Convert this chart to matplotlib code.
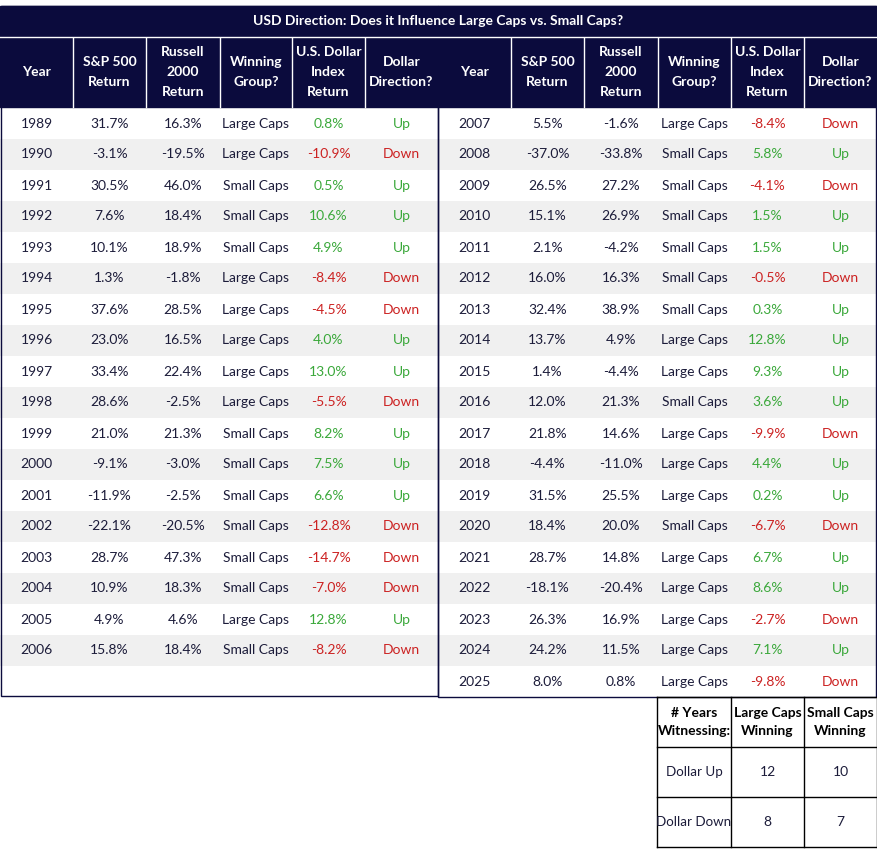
import matplotlib.pyplot as plt
from matplotlib.patches import Rectangle

plt.rcParams['font.family'] = ['Lato', 'DejaVu Sans']

NAVY = '#0b0b3d'
TXT = '#1c1c3a'
GREEN = '#3aa83a'
RED = '#cc2222'

title = "USD Direction: Does it Influence Large Caps vs. Small Caps?"
headers = ["Year", "S&P 500\nReturn", "Russell\n2000\nReturn", "Winning\nGroup?",
           "U.S. Dollar\nIndex\nReturn", "Dollar\nDirection?"]

years = list(range(1989, 2026))
sp500 = [31.7, -3.1, 30.5, 7.6, 10.1, 1.3, 37.6, 23.0, 33.4, 28.6, 21.0, -9.1, -11.9, -22.1,
         28.7, 10.9, 4.9, 15.8, 5.5, -37.0, 26.5, 15.1, 2.1, 16.0, 32.4, 13.7, 1.4, 12.0,
         21.8, -4.4, 31.5, 18.4, 28.7, -18.1, 26.3, 24.2, 8.0]
russell = [16.3, -19.5, 46.0, 18.4, 18.9, -1.8, 28.5, 16.5, 22.4, -2.5, 21.3, -3.0, -2.5, -20.5,
           47.3, 18.3, 4.6, 18.4, -1.6, -33.8, 27.2, 26.9, -4.2, 16.3, 38.9, 4.9, -4.4, 21.3,
           14.6, -11.0, 25.5, 20.0, 14.8, -20.4, 16.9, 11.5, 0.8]
winner = ["Large", "Large", "Small", "Small", "Small", "Large", "Large", "Large", "Large", "Large",
          "Small", "Small", "Small", "Small", "Small", "Small", "Large", "Small",
          "Large", "Small", "Small", "Small", "Small", "Small", "Small", "Large", "Large", "Small",
          "Large", "Large", "Large", "Small", "Large", "Large", "Large", "Large", "Large"]
usd = [0.8, -10.9, 0.5, 10.6, 4.9, -8.4, -4.5, 4.0, 13.0, -5.5, 8.2, 7.5, 6.6, -12.8, -14.7,
       -7.0, 12.8, -8.2, -8.4, 5.8, -4.1, 1.5, 1.5, -0.5, 0.3, 12.8, 9.3, 3.6, -9.9, 4.4, 0.2,
       -6.7, 6.7, 8.6, -2.7, 7.1, -9.8]

summary_cols = ["# Years\nWitnessing:", "Large Caps\nWinning", "Small Caps\nWinning"]
summary_rows = ["Dollar Up", "Dollar Down"]
summary_vals = [[12, 10], [8, 7]]

W, H = 877, 852
fig = plt.figure(figsize=(W / 100, H / 100), dpi=100)
ax = fig.add_axes([0, 0, 1, 1])
ax.set_xlim(0, W)
ax.set_ylim(H, 0)
ax.axis('off')

fs = 10
ax.add_patch(Rectangle((0, 6), W, 101, color=NAVY))
ax.text(W / 2, 21, title, color='white', fontsize=fs, fontweight='bold', ha='center', va='center')
ax.plot([0, W], [37, 37], color='white', lw=1)

row_h = 31
top = 108
blocks = [(0, 0, 18, [0, 73, 146, 220, 292, 365, 438]),
          (438, 18, 19, [438, 511, 584, 658, 731, 804, 877])]
for x0, start, n, xs in blocks:
    for j, h in enumerate(headers):
        cx = (xs[j] + xs[j + 1]) / 2
        ax.text(cx, 72, h, color='white', fontsize=fs, fontweight='bold', ha='center',
                va='center', linespacing=1.75)
        if j > 0:
            ax.plot([xs[j], xs[j]], [38, 107], color='white', lw=1)
    for i in range(n):
        k = start + i
        y = top + i * row_h
        if i % 2 == 1:
            ax.add_patch(Rectangle((xs[0], y), xs[-1] - xs[0], row_h, color='#f0f0f0', lw=0))
        cy = y + row_h / 2
        col = GREEN if usd[k] >= 0 else RED
        vals = [(str(years[k]), TXT), (f"{sp500[k]:.1f}%", TXT), (f"{russell[k]:.1f}%", TXT),
                (winner[k] + " Caps", TXT), (f"{usd[k]:.1f}%", col),
                ("Up" if usd[k] >= 0 else "Down", col)]
        for j, (s, c) in enumerate(vals):
            ax.text((xs[j] + xs[j + 1]) / 2, cy, s, color=c, fontsize=fs, ha='center', va='center')

# outer borders
ax.add_patch(Rectangle((0.5, 6), 437.5, 690, fill=False, ec=NAVY, lw=1))
ax.add_patch(Rectangle((438, 6), 438, 691, fill=False, ec=NAVY, lw=1))

# summary table
sx = [657, 731, 804, 877]
sy = [697, 747, 797, 847]
for j, h in enumerate(summary_cols):
    ax.text((sx[j] + sx[j + 1]) / 2, 722, h, color='black', fontsize=fs, fontweight='bold',
            ha='center', va='center', linespacing=1.6)
for i, r in enumerate(summary_rows):
    cy = (sy[i + 1] + sy[i + 2]) / 2
    ax.text((sx[0] + sx[1]) / 2, cy, r, color=TXT, fontsize=fs - 0.4, ha='center', va='center')
    for j, v in enumerate(summary_vals[i]):
        ax.text((sx[j + 1] + sx[j + 2]) / 2, cy, str(v), color=TXT, fontsize=fs,
                ha='center', va='center')
for x in sx:
    ax.plot([x, x], [sy[0], sy[-1]], color='black', lw=1)
for y in sy:
    ax.plot([sx[0], sx[-1]], [y, y], color='black', lw=1)

fig.savefig('out.png', dpi=100)
